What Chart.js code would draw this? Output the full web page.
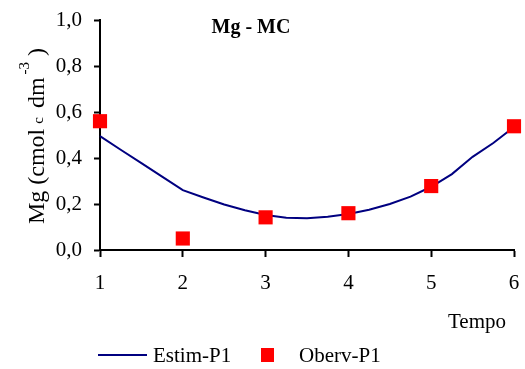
<!DOCTYPE html>
<html>
<head>
<meta charset="utf-8">
<title>Mg - MC</title>
<script src="https://cdn.jsdelivr.net/npm/chart.js@4.4.1/dist/chart.umd.min.js"></script>
<style>
  html, body { margin: 0; padding: 0; background: #fff; }
  #wrap { width: 525px; height: 369px; }
</style>
</head>
<body>
<div id="wrap"><canvas id="chartMg" width="525" height="369"></canvas></div>
<script>
// ── Data ──────────────────────────────────────────────────────────────────────
// Fitted curve (Estim-P1), sampled every quarter of a time step
const estimTempo = [1, 1.25, 1.5, 1.75, 2, 2.25, 2.5, 2.75, 3, 3.25, 3.5,
                    3.75, 4, 4.25, 4.5, 4.75, 5, 5.25, 5.5, 5.75, 6];
const estimMg    = [0.495, 0.436, 0.378, 0.319, 0.26, 0.228, 0.198, 0.173, 0.152, 0.14, 0.138,
                    0.145, 0.157, 0.175, 0.2, 0.232, 0.275, 0.33, 0.405, 0.465, 0.535];

// Observed values (Oberv-P1)
const obsTempo = [1, 2, 3, 4, 5, 6];
const obsMg    = [0.56, 0.05, 0.142, 0.16, 0.278, 0.538];

const xTicks = [1, 2, 3, 4, 5, 6];
const yTicks = [0, 0.2, 0.4, 0.6, 0.8, 1.0];

const chartTitle = 'Mg - MC';
const xTitle     = 'Tempo';
const seriesNames = ['Estim-P1', 'Oberv-P1'];

const SERIF = "'Liberation Serif', 'Times New Roman', serif";
const NAVY  = '#000080';
const RED   = '#ff0000';

const toPoints = (xs, ys) => xs.map((x, i) => ({ x, y: ys[i] }));
const comma = (v) => v.toFixed(1).replace('.', ',');

// ── Texts drawn on the canvas: title, axis titles, legend ─────────────────────
const textPlugin = {
    id: 'mgTexts',
    afterDraw(chart) {
        const { ctx, chartArea } = chart;
        ctx.save();
        ctx.fillStyle = '#000';
        ctx.textBaseline = 'alphabetic';

        // Title
        ctx.font = `bold 20px ${SERIF}`;
        ctx.textAlign = 'center';
        ctx.fillText(chartTitle, 251, 33);

        // X axis title
        ctx.font = `21px ${SERIF}`;
        ctx.textAlign = 'right';
        ctx.fillText(xTitle, chartArea.right - 8, 328);

        // Y axis title with subscript / superscript
        const segs = [
            { t: 'Mg (cmol', size: 24, dy: 0, gap: 5 },
            { t: 'c',        size: 15, dy: -1, gap: 9 },
            { t: 'dm',       size: 24, dy: 0, gap: 3 },
            { t: '-3',       size: 15, dy: -15, gap: 6 },
            { t: ')',        size: 24, dy: 0, gap: 0 },
        ];
        let total = 0;
        segs.forEach((s) => {
            ctx.font = `${s.size}px ${SERIF}`;
            s.w = ctx.measureText(s.t).width;
            total += s.w + s.gap;
        });
        ctx.translate(44, 136);
        ctx.rotate(-Math.PI / 2);
        ctx.textAlign = 'left';
        let x = -total / 2;
        segs.forEach((s) => {
            ctx.font = `${s.size}px ${SERIF}`;
            ctx.fillText(s.t, x, s.dy);
            x += s.w + s.gap;
        });
        ctx.setTransform(1, 0, 0, 1, 0, 0);

        // Legend
        const legY = 355;
        ctx.strokeStyle = NAVY;
        ctx.lineWidth = 2;
        ctx.beginPath();
        ctx.moveTo(98, legY);
        ctx.lineTo(147, legY);
        ctx.stroke();
        ctx.fillStyle = RED;
        ctx.fillRect(261, legY - 7, 13, 14);

        ctx.fillStyle = '#000';
        ctx.font = `21px ${SERIF}`;
        ctx.textAlign = 'left';
        ctx.textBaseline = 'middle';
        ctx.fillText(seriesNames[0], 153, legY + 1);
        ctx.fillText(seriesNames[1], 299, legY + 1);
        ctx.restore();
    },
};

// ── Chart ─────────────────────────────────────────────────────────────────────
new Chart(document.getElementById('chartMg'), {
    type: 'scatter',
    data: {
        datasets: [
            {
                label:           seriesNames[0],
                data:            toPoints(estimTempo, estimMg),
                showLine:        true,
                borderColor:     NAVY,
                borderWidth:     2,
                pointRadius:     0,
                tension:         0,
                order:           1,
                clip:            false,
            },
            {
                label:           seriesNames[1],
                data:            toPoints(obsTempo, obsMg),
                showLine:        false,
                pointStyle:      'rect',
                pointRadius:     10,
                backgroundColor: RED,
                borderColor:     RED,
                borderWidth:     0,
                order:           0,
                clip:            false,
            },
        ],
    },
    options: {
        responsive:       false,
        devicePixelRatio: 1,
        animation:        false,
        events:           [],
        layout: { padding: { left: 0, right: 11, top: 20, bottom: 0 } },
        scales: {
            x: {
                type: 'linear',
                min: 1,
                max: 6,
                afterFit: (s) => {
                    s.height = 119;
                    s.paddingLeft = 0;
                    s.paddingRight = 0;
                },
                afterBuildTicks: (s) => { s.ticks = xTicks.map((value) => ({ value })); },
                grid: {
                    drawOnChartArea: false,
                    drawTicks:       true,
                    tickLength:      7,
                    tickWidth:       2,
                    color:           '#000',
                },
                border: { color: '#000', width: 2 },
                ticks: {
                    color:   '#000',
                    padding: 14,
                    font:    { family: SERIF, size: 21 },
                },
            },
            y: {
                min: 0,
                max: 1,
                afterFit: (s) => {
                    s.width = 100;
                    s.paddingTop = 0;
                    s.paddingBottom = 0;
                },
                afterBuildTicks: (s) => { s.ticks = yTicks.map((value) => ({ value })); },
                grid: {
                    drawOnChartArea: false,
                    drawTicks:       true,
                    tickLength:      6,
                    tickWidth:       2,
                    color:           '#000',
                },
                border: { color: '#000', width: 2 },
                ticks: {
                    color:    '#000',
                    padding:  12,
                    font:     { family: SERIF, size: 21 },
                    callback: (v) => comma(v),
                },
            },
        },
        plugins: {
            legend:  { display: false },
            tooltip: { enabled: false },
        },
    },
    plugins: [textPlugin],
});
</script>
</body>
</html>
